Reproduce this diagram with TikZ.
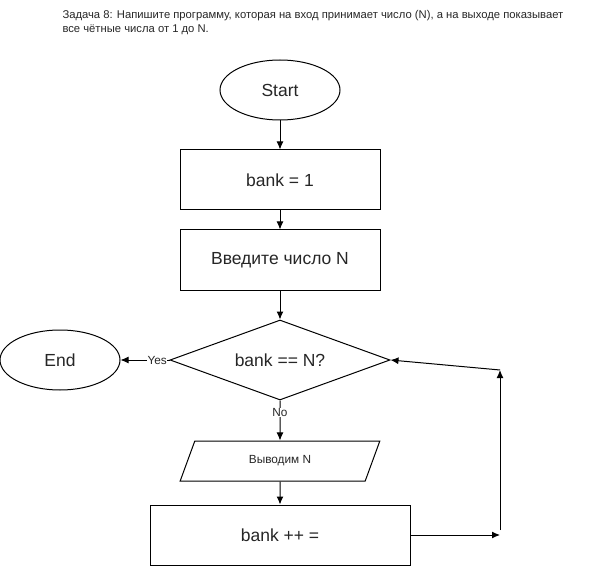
\documentclass[tikz,border=0pt]{standalone}
\usepackage{fontspec}
\setmainfont{Liberation Sans}
\usetikzlibrary{shapes.geometric,arrows.meta}

\begin{document}
\begin{tikzpicture}[x=1pt,y=-1pt,line width=1pt,
    every node/.style={font=\fontsize{17.5}{20}\selectfont,text=black!85},
    term/.style={draw,ellipse,minimum width=120pt,minimum height=60pt,inner sep=0pt},
    proc/.style={draw,rectangle,minimum width=200pt,minimum height=60pt,inner sep=0pt},
    cond/.style={draw,diamond,minimum width=220pt,minimum height=80pt,aspect=2.75,inner sep=0pt},
    io/.style={draw,trapezium,trapezium left angle=63,trapezium right angle=117,minimum width=200pt,minimum height=40pt,inner sep=0pt,trapezium stretches=true},
    lbl/.style={font=\fontsize{11.8}{14}\selectfont,fill=white,inner sep=0.5pt},
    flow/.style={-{Latex[length=8pt,width=7pt]}}]
    \useasboundingbox (0,0) rectangle (611,567);
    % task text
    \node[anchor=north west,align=left,inner sep=0pt,font=\fontsize{11.25}{13.5}\selectfont] (task) at (62,10)
        {Задача 8: Напишите программу, которая на вход принимает число (N), а на выходе показывает\\
         все чётные числа от 1 до N.};
    % blocks
    \node[term] (start) at (280,90) {Start};
    \node[proc] (init) at (280,180) {bank = 1};
    \node[proc] (input) at (280,260) {Введите число N};
    \node[cond] (check) at (280,360) {bank == N?};
    \node[term] (stop) at (60,360) {End};
    \node[io,font=\fontsize{11.8}{14}\selectfont] (output) at (280,461) {Выводим N};
    \node[proc,minimum width=260pt] (incr) at (280,535) {bank ++ =};
    \coordinate (r1) at (500,535);
    \coordinate (r2) at (500,530);
    \coordinate (r3) at (500,370);
    % connectors
    \draw[flow] (start) -- (init);
    \draw[flow] (init) -- (input);
    \draw[flow] (input) -- (check);
    \draw[flow] (check.west) -- node[lbl,pos=0.25] {Yes} (stop);
    \draw[flow] (check.south) -- node[lbl,pos=0.3] {No} (output);
    \draw[flow] (output) -- (incr);
    \draw[flow] (incr.east) -- (r1);
    \draw[flow] (r2) -- (r3);
    \draw[flow] (r3) -- (check.east);
\end{tikzpicture}
\end{document}
